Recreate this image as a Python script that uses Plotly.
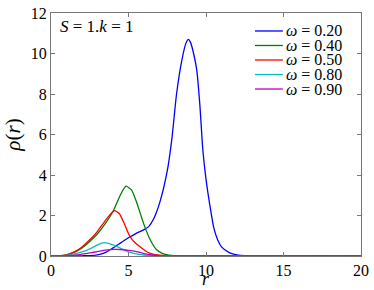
import plotly.graph_objects as go

# omega = 0.20
r_b = [0, 1, 2, 2.5, 3, 3.5, 4, 4.5, 5, 5.5, 6, 6.3, 6.6, 7, 7.5, 7.8, 8.1, 8.4, 8.7, 8.86, 9.0, 9.2, 9.4, 9.6, 9.8, 10.0, 10.25, 10.5, 10.75, 11, 11.5, 12, 12.5, 13, 14, 20]
v_b = [0, 0, 0.01, 0.02, 0.06, 0.17, 0.4, 0.65, 0.9, 1.12, 1.3, 1.45, 1.8, 2.6, 4.2, 5.8, 8.0, 9.5, 10.5, 10.7, 10.55, 10.0, 9.2, 7.5, 5.2, 3.8, 2.5, 1.4, 0.8, 0.45, 0.17, 0.06, 0.02, 0.005, 0, 0]
# omega = 0.40
r_g = [0, 0.5, 1, 1.5, 2, 2.5, 3, 3.5, 4, 4.5, 4.84, 5.2, 5.5, 6, 6.4, 6.8, 7.2, 7.6, 8, 9, 20]
v_g = [0, 0.01, 0.05, 0.18, 0.4, 0.72, 1.1, 1.6, 2.2, 3.05, 3.45, 3.25, 2.7, 1.55, 0.8, 0.32, 0.12, 0.04, 0.01, 0, 0]
# omega = 0.50
r_r = [0, 0.5, 1, 1.5, 2, 2.5, 3, 3.5, 4, 4.1, 4.4, 4.7, 5, 5.2, 5.5, 5.8, 6.1, 6.4, 7, 8, 20]
v_r = [0, 0.01, 0.06, 0.2, 0.45, 0.8, 1.22, 1.75, 2.2, 2.24, 2.1, 1.65, 1.1, 0.85, 0.6, 0.42, 0.25, 0.13, 0.04, 0, 0]
# omega = 0.80
r_c = [0, 1, 1.5, 2, 2.5, 3, 3.44, 4, 4.5, 5, 5.5, 6, 6.5, 7, 8, 20]
v_c = [0, 0.03, 0.1, 0.2, 0.35, 0.55, 0.66, 0.55, 0.38, 0.2, 0.1, 0.05, 0.02, 0.01, 0, 0]
# omega = 0.90
r_m = [0, 1, 1.5, 2, 2.5, 3, 3.5, 4.1, 4.5, 5, 5.4, 6, 6.5, 7, 8, 20]
v_m = [0, 0.01, 0.04, 0.09, 0.15, 0.22, 0.29, 0.33, 0.32, 0.28, 0.24, 0.12, 0.05, 0.02, 0, 0]

labels = ["<i>ω</i> = 0.20", "<i>ω</i> = 0.40", "<i>ω</i> = 0.50", "<i>ω</i> = 0.80", "<i>ω</i> = 0.90"]
colors = ["#0000ff", "#008000", "#ff0000", "#00bfbf", "#bf00bf"]
series = [(r_b, v_b), (r_g, v_g), (r_r, v_r), (r_c, v_c), (r_m, v_m)]

FONT = "Liberation Serif, Times New Roman, serif"
fig = go.Figure()
for (rx, vy), lab, col in zip(series, labels, colors):
    fig.add_trace(go.Scatter(x=rx, y=vy, mode="lines", name=lab, showlegend=False,
                             line=dict(color=col, width=1.3, shape="spline", smoothing=0.6)))

# compact legend (MATLAB style): sample line + label per series
shapes, annotations = [], []
leg_x0, leg_x1, leg_tx = 0.658, 0.748, 0.752
leg_y0, leg_dy = 0.926, 0.0597
for i, (lab, col) in enumerate(zip(labels, colors)):
    yy = leg_y0 - i * leg_dy
    shapes.append(dict(type="line", xref="paper", yref="paper", x0=leg_x0, x1=leg_x1, y0=yy, y1=yy,
                       line=dict(color=col, width=1.3)))
    annotations.append(dict(text=lab, xref="paper", yref="paper", x=leg_tx, y=yy,
                            xanchor="left", yanchor="middle", showarrow=False,
                            font=dict(family=FONT, size=16, color="black")))
annotations.append(dict(text="<i>S</i> = 1.<i>k</i> = 1", xref="paper", yref="paper",
                        x=0.022, y=0.993, xanchor="left", yanchor="top", showarrow=False,
                        font=dict(family=FONT, size=17, color="black")))
# x-axis title placed below the tick labels
annotations.append(dict(text="<i>r</i>", xref="paper", yref="paper", x=0.5, y=-0.093,
                        xanchor="center", yanchor="middle", showarrow=False,
                        font=dict(family=FONT, size=18, color="black")))

axis_common = dict(showline=True, linecolor="#777", linewidth=1, mirror="allticks",
                   ticks="inside", ticklen=4, tickcolor="#777", showgrid=False, zeroline=False,
                   automargin=False,
                   tickfont=dict(family=FONT, size=16, color="black"))
fig.update_layout(
    width=374, height=290,
    margin=dict(l=51, r=13, t=13, b=34),
    plot_bgcolor="white", paper_bgcolor="white",
    font=dict(family=FONT, color="black"),
    xaxis=dict(range=[0, 20], tickvals=[0, 5, 10, 15, 20], **axis_common),
    yaxis=dict(range=[0, 12], tickvals=[0, 2, 4, 6, 8, 10, 12],
               title=dict(text="<i>ρ</i>(<i>r</i>)", font=dict(family=FONT, size=21), standoff=4),
               **axis_common),
    showlegend=False,
    shapes=shapes,
    annotations=annotations,
)
fig.write_html("out.html", config={"displayModeBar": False},
               post_script="document.body.style.margin='0';document.body.style.padding='0';")
